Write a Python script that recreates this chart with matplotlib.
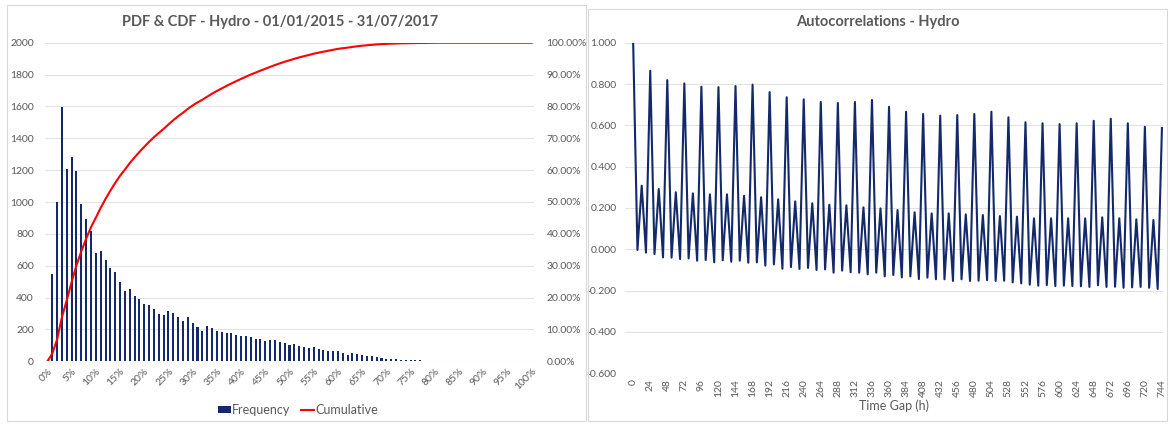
import numpy as np
import matplotlib
matplotlib.use("Agg")
import matplotlib.pyplot as plt
from matplotlib.patches import Rectangle
from matplotlib.ticker import FuncFormatter

plt.rcParams['font.family'] = ['Lato', 'DejaVu Sans']

# ---- PDF / CDF data: hourly hydro output binned in 1 % steps of capacity ----
bin_labels = [f"{p}%" for p in range(0, 101)]
frequency = [0, 545, 1000, 1595, 1205, 1285, 1195, 990, 895, 815,
             680, 695, 635, 585, 560, 500, 440, 455, 410, 390,
             360, 355, 330, 300, 290, 315, 305, 275, 250, 280,
             240, 215, 190, 220, 212, 190, 185, 175, 178, 162,
             158, 160, 150, 138, 140, 130, 136, 132, 119, 115,
             101, 110, 96, 88, 86, 90, 75, 69, 67, 67,
             63, 52, 38, 52, 46, 38, 33, 31, 29, 23,
             16, 14, 14, 10, 7, 7, 6, 6, 5, 5,
             5, 4] + [0] * 19

# ---- Autocorrelation data (hourly lags, daily cycle) ----
daily_peaks = [1.000, 0.864, 0.819, 0.803, 0.787, 0.785, 0.790, 0.797,
               0.761, 0.736, 0.726, 0.713, 0.708, 0.713, 0.723, 0.690,
               0.666, 0.655, 0.647, 0.650, 0.655, 0.666, 0.639, 0.615,
               0.610, 0.606, 0.610, 0.622, 0.632, 0.610, 0.593, 0.587]
half_day_peaks = [0.308, 0.292, 0.276, 0.271, 0.266, 0.266, 0.259, 0.252,
                  0.242, 0.232, 0.223, 0.216, 0.213, 0.203, 0.198, 0.190,
                  0.179, 0.174, 0.174, 0.169, 0.166, 0.161, 0.158, 0.150,
                  0.150, 0.150, 0.150, 0.155, 0.150, 0.145, 0.142]
troughs = [-0.003, -0.016, -0.023, -0.039, -0.040, -0.047, -0.044, -0.055,
           -0.052, -0.063, -0.053, -0.060, -0.055, -0.065, -0.063, -0.079,
           -0.073, -0.094, -0.086, -0.095, -0.090, -0.100, -0.097, -0.113,
           -0.103, -0.111, -0.113, -0.121, -0.113, -0.131, -0.124, -0.136,
           -0.131, -0.144, -0.137, -0.145, -0.145, -0.153, -0.145, -0.153,
           -0.152, -0.149, -0.153, -0.152, -0.160, -0.165, -0.171, -0.176,
           -0.173, -0.178, -0.176, -0.178, -0.179, -0.182, -0.174, -0.182,
           -0.181, -0.186, -0.184, -0.182, -0.186, -0.192]
lag_ticks = list(range(0, 745, 24))

NAVY = '#13296a'
GREY_TXT = '#595959'
GRID = '#e3e3e3'

fig = plt.figure(figsize=(11.7, 4.26), dpi=100)
W, H = 1170, 426


def px_rect(x0, y0, x1, y1):
    return [x0 / W, 1 - y1 / H, (x1 - x0) / W, (y1 - y0) / H]


# chart frames
for (x0, y0, x1, y1) in [(7, 5, 586, 421), (588, 9, 1167, 421)]:
    fig.patches.append(Rectangle((x0 / W, 1 - y1 / H), (x1 - x0) / W, (y1 - y0) / H,
                                 transform=fig.transFigure, fill=False,
                                 edgecolor='#d9d9d9', linewidth=0.8))

# ================= PDF & CDF =================
ax = fig.add_axes(px_rect(45, 42.7, 534, 361.3))
x = np.arange(len(frequency))
bars = ax.bar(x, frequency, width=0.42, color=NAVY, zorder=3, label='Frequency')
ax.set_xlim(-0.5, len(frequency) - 0.5)
ax.set_ylim(0, 2000)
ax.set_yticks(range(0, 2001, 200))
ax.set_xticks(x[::5])
ax.set_xticklabels(bin_labels[::5], rotation=45, ha='right', va='top',
                   rotation_mode='anchor')
ax.grid(axis='y', color=GRID, linewidth=0.8, zorder=0)
for s in ax.spines.values():
    s.set_visible(False)
ax.tick_params(length=0, labelsize=7.5, colors=GREY_TXT)
ax.tick_params(axis='x', pad=4)
ax.tick_params(axis='y', pad=8)

freq_arr = np.array(frequency, dtype=float)
cumulative = np.cumsum(freq_arr) / freq_arr.sum()
ax2 = ax.twinx()
line, = ax2.plot(x, cumulative, color='#ff0000', linewidth=1.5, zorder=4,
                 label='Cumulative')
ax2.set_ylim(0, 1)
ax2.set_yticks(np.arange(0, 1.01, 0.1))
ax2.yaxis.set_major_formatter(FuncFormatter(lambda v, p: f"{v * 100:.2f}%"))
for s in ax2.spines.values():
    s.set_visible(False)
ax2.tick_params(length=0, labelsize=7.5, colors=GREY_TXT, pad=9)

fig.text(280 / W, 1 - 22 / H, 'PDF & CDF - Hydro - 01/01/2015 - 31/07/2017',
         ha='center', va='center', fontsize=10.5, fontweight='bold', color=GREY_TXT)

fig.legend(handles=[bars, line], loc='center', bbox_to_anchor=(298 / W, 1 - 410 / H),
           ncol=2, frameon=False, fontsize=9, labelcolor=GREY_TXT,
           handlelength=1.0, handleheight=0.55, handletextpad=0.1,
           columnspacing=0.9)

# ================= Autocorrelations =================
axr = fig.add_axes(px_rect(625, 42.7, 1163, 373.3))
peak_lags = [24 * k for k in range(len(daily_peaks))]
half_lags = [12 + 24 * k for k in range(len(half_day_peaks))]
trough_lags = [6 + 12 * k for k in range(len(troughs))]
pts = sorted(zip(peak_lags + half_lags + trough_lags,
                 daily_peaks + half_day_peaks + troughs))
lags = [p[0] for p in pts]
acf = [p[1] for p in pts]
axr.plot(lags, acf, color=NAVY, linewidth=1.5, solid_joinstyle='round', zorder=3)
axr.set_xlim(-11.5, 745.5)
axr.set_ylim(-0.6, 1.0)
axr.set_yticks(np.arange(-0.6, 1.001, 0.2))
axr.yaxis.set_major_formatter(FuncFormatter(lambda v, p: f"{0 if abs(v) < 1e-9 else v:.3f}"))
axr.set_xticks(lag_ticks)
axr.set_xticklabels([str(t) for t in lag_ticks], rotation=90, ha='center', va='top')
axr.grid(axis='y', color=GRID, linewidth=0.8, zorder=0)
for s in axr.spines.values():
    s.set_visible(False)
axr.tick_params(length=0, labelsize=7.5, colors=GREY_TXT)
axr.tick_params(axis='x', pad=4)
axr.tick_params(axis='y', pad=6)
axr.set_xlabel('Time Gap (h)', fontsize=9, color=GREY_TXT, labelpad=2)

fig.text(878 / W, 1 - 22 / H, 'Autocorrelations - Hydro',
         ha='center', va='center', fontsize=10.5, fontweight='bold', color=GREY_TXT)

fig.savefig('out.png', dpi=100)
